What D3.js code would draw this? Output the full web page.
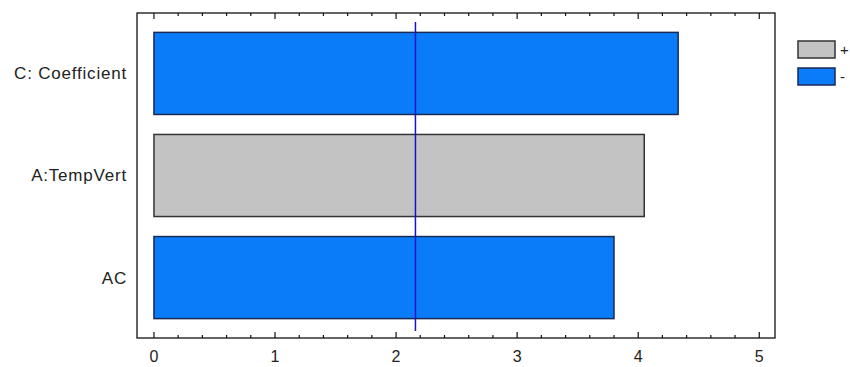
<!DOCTYPE html>
<html>
<head>
<meta charset="utf-8">
<script src="https://cdn.jsdelivr.net/npm/d3@7"></script>
<style>
  body { margin: 0; background: #fff; }
  text { font-family: "Liberation Sans", Arial, sans-serif; fill: #222; }
</style>
</head>
<body>
<svg id="chart" width="850" height="367"></svg>
<script>
// 数据
const terms = ['C: Coefficient', 'A:TempVert', 'AC']
const effects = [4.33, 4.05, 3.80]
const signs = ['-', '+', '-']
const legendLabels = ['+', '-']
const xTicks = [0, 1, 2, 3, 4, 5]
const refLine = 2.16

const colors = { '+': '#c3c3c3', '-': '#0a7cfa' }
const strokes = { '+': '#333333', '-': '#1b2a55' }

const W = 850, H = 367
const margin = { top: 13, right: 75, bottom: 29, left: 137 }
const innerW = W - margin.left - margin.right
const innerH = H - margin.top - margin.bottom

const svg = d3.select('#chart')
const g = svg.append('g').attr('transform', `translate(${margin.left},${margin.top})`)

// 比例尺
const x = d3.scaleLinear().domain([-0.14, 5.13]).range([0, innerW])
const y = d3.scaleBand().domain(terms).range([0, innerH]).paddingInner(0.196).paddingOuter(0.19)

// 框
g.append('rect')
  .attr('width', innerW)
  .attr('height', innerH)
  .attr('fill', 'none')
  .attr('stroke', '#111')
  .attr('stroke-width', 1.3)

// 刻度（上下都朝内）
const minor = d3.range(0, 5.01, 0.2)
function drawTicks(yPos, dir) {
  g.selectAll(null)
    .data(minor)
    .join('line')
    .attr('x1', d => x(d))
    .attr('x2', d => x(d))
    .attr('y1', yPos)
    .attr('y2', d => yPos + dir * (Math.abs(d - Math.round(d)) < 1e-6 ? 6 : 3))
    .attr('stroke', '#111')
    .attr('stroke-width', 1.2)
}
drawTicks(0, 1)
drawTicks(innerH, -1)

// x 轴标签
g.selectAll('text.xtick')
  .data(xTicks)
  .join('text')
  .attr('class', 'xtick')
  .attr('x', d => x(d))
  .attr('y', innerH + 24)
  .attr('text-anchor', 'middle')
  .attr('font-size', 16)
  .text(d => d)

// y 轴标签
g.selectAll('text.ytick')
  .data(terms)
  .join('text')
  .attr('class', 'ytick')
  .attr('x', -10)
  .attr('y', d => y(d) + y.bandwidth() / 2)
  .attr('dy', '0.35em')
  .attr('text-anchor', 'end')
  .attr('font-size', 17)
  .attr('letter-spacing', 0.8)
  .text(d => d)

// 条形
g.selectAll('rect.bar')
  .data(terms)
  .join('rect')
  .attr('class', 'bar')
  .attr('x', x(0))
  .attr('y', d => y(d))
  .attr('width', (d, i) => x(effects[i]) - x(0))
  .attr('height', y.bandwidth())
  .attr('fill', (d, i) => colors[signs[i]])
  .attr('stroke', (d, i) => strokes[signs[i]])
  .attr('stroke-width', 1.5)

// 参考线
g.append('line')
  .attr('x1', x(refLine))
  .attr('x2', x(refLine))
  .attr('y1', 9)
  .attr('y2', innerH - 7)
  .attr('stroke', '#1414c8')
  .attr('stroke-width', 1.5)

// 图例
const lg = svg.append('g').attr('transform', 'translate(798,41)')
const li = lg.selectAll('g')
  .data(legendLabels)
  .join('g')
  .attr('transform', (d, i) => `translate(0,${i * 27})`)
li.append('rect')
  .attr('width', 37)
  .attr('height', 17)
  .attr('fill', d => colors[d])
  .attr('stroke', d => strokes[d])
  .attr('stroke-width', 1.5)
li.append('text')
  .attr('x', 42)
  .attr('y', 9)
  .attr('dy', '0.35em')
  .attr('font-size', 15)
  .text(d => d)
</script>
</body>
</html>
